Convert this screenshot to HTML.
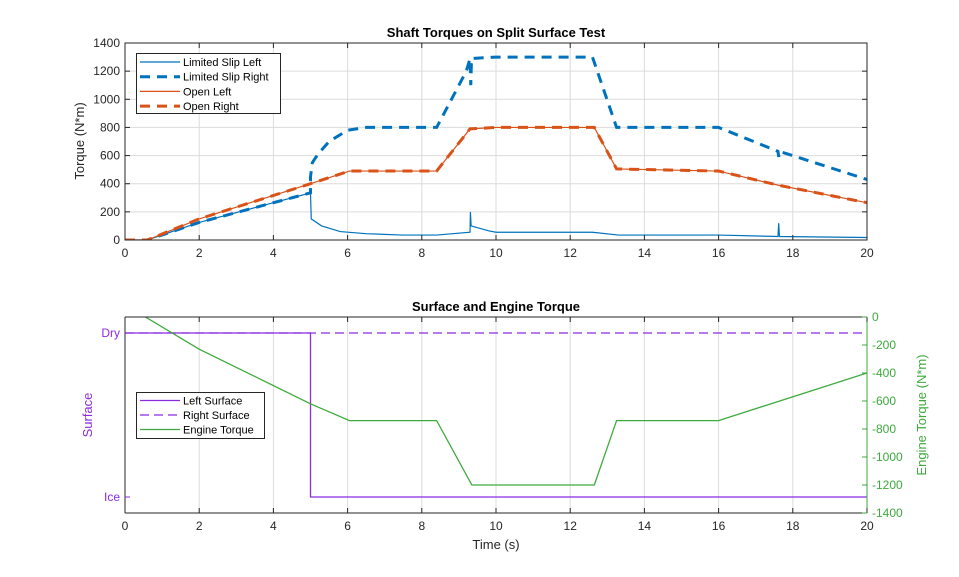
<!DOCTYPE html>
<html><head><meta charset="utf-8">
<style>
html,body{margin:0;padding:0;background:#fff;}
svg{display:block;font-family:"Liberation Sans",Arial,sans-serif;}
</style></head>
<body>
<svg id="chart" width="959" height="577" viewBox="0 0 959 577"></svg>
<script>
// ---- data ----
const xTicks = [0,2,4,6,8,10,12,14,16,18,20];
const topYTicks = [0,200,400,600,800,1000,1200,1400];
const engYTicks = [0,-200,-400,-600,-800,-1000,-1200,-1400];
const lsRightT = [0,0.6,2,4,5,5.0,5.05,5.2,5.5,6,6.5,8.4,9.2,9.3,9.32,9.34,10,12.6,13.25,16,17.6,17.62,17.64,20];
const lsRightV = [0,0,125,265,335,450,550,610,700,780,800,800,1200,1290,1100,1290,1300,1300,800,800,630,590,630,430];
const lsLeftT = [0,0.6,2,4,5,5.02,5.3,5.8,6.5,7.5,8.4,9.3,9.31,9.33,9.8,10,12.6,13.3,16,17.6,17.62,17.64,20];
const lsLeftV = [0,0,125,265,335,150,100,60,45,35,35,55,200,100,65,55,55,35,35,25,120,25,18];
const openT = [0,0.6,2,5,6.05,8.4,9.3,10,12.65,13.25,16,17.6,20];
const openV = [0,0,150,400,490,490,790,800,800,505,490,390,265];
const surfT = [0,5,5,20];
const leftSurfV = [1,1,0,0];
const rightSurfT = [0,20];
const rightSurfV = [1,1];
const engT = [0,0.55,2,5,6.05,8.4,9.35,12.65,13.25,16,20];
const engV = [90,0,-230,-620,-740,-740,-1200,-1200,-740,-740,-400];

// ---- helpers ----
const svg = document.getElementById('chart');
const NS = 'http://www.w3.org/2000/svg';
function mk(tag, attrs, parent){const e=document.createElementNS(NS,tag);for(const k in attrs)e.setAttribute(k,attrs[k]);(parent||svg).appendChild(e);return e;}
const X0=125,X1=867;
const xs = t => X0 + (t-0)/(20-0)*(X1-X0);
const T0=43,T1=240;
const yTop = v => T1 - v/1400*(T1-T0);
const B0=317,B1=513;
const ySurf = v => 497 - v*(497-333);
const yEng = v => B0 + (0-v)/1400*(B1-B0);
function pts(T,V,fy){return T.map((t,i)=>xs(t).toFixed(2)+','+fy(V[i]).toFixed(2)).join(' ');}

// clip paths
const defs = mk('defs',{});
const c1 = mk('clipPath',{id:'clipTop'},defs); mk('rect',{x:X0,y:T0,width:X1-X0,height:T1-T0},c1);
const c2 = mk('clipPath',{id:'clipBot'},defs); mk('rect',{x:X0,y:B0,width:X1-X0,height:B1-B0},c2);

// ===== TOP AXES =====
const gTop = mk('g',{});


mk('rect',{x:X0,y:T0,width:X1-X0,height:T1-T0,fill:'#fff'},gTop);
xTicks.forEach(t=>{
  const l=mk('line',{x1:xs(t),x2:xs(t),y1:T0,y2:T1,stroke:'#dcdcdc','stroke-width':1},gTop);
  
  
});
topYTicks.forEach(v=>{
  const l=mk('line',{x1:X0,x2:X1,y1:yTop(v),y2:yTop(v),stroke:'#dcdcdc','stroke-width':1},gTop);
  
  
});
const gTopS = mk('g',{'clip-path':'url(#clipTop)'},gTop);
let s;
s=mk('polyline',{points:pts(lsLeftT,lsLeftV,yTop),fill:'none',stroke:'#0072BD','stroke-width':1.2},gTopS);


s=mk('polyline',{points:pts(lsRightT,lsRightV,yTop),fill:'none',stroke:'#0072BD','stroke-width':3,'stroke-dasharray':'10,7'},gTopS);


s=mk('polyline',{points:pts(openT,openV,yTop),fill:'none',stroke:'#D95319','stroke-width':1.2},gTopS);


s=mk('polyline',{points:pts(openT,openV,yTop),fill:'none',stroke:'#D95319','stroke-width':3,'stroke-dasharray':'10,7'},gTopS);


mk('rect',{x:X0,y:T0,width:X1-X0,height:T1-T0,fill:'none',stroke:'#262626','stroke-width':1},gTop);
xTicks.forEach(t=>{
  mk('line',{x1:xs(t),x2:xs(t),y1:T1,y2:T1-5,stroke:'#262626'},gTop);
  mk('line',{x1:xs(t),x2:xs(t),y1:T0,y2:T0+5,stroke:'#262626'},gTop);
  const tx=mk('text',{x:xs(t),y:T1+17,'text-anchor':'middle','font-size':12,fill:'#262626'},gTop);
  tx.textContent=t;
  
  
});
topYTicks.forEach(v=>{
  mk('line',{x1:X0,x2:X0+5,y1:yTop(v),y2:yTop(v),stroke:'#262626'},gTop);
  mk('line',{x1:X1,x2:X1-5,y1:yTop(v),y2:yTop(v),stroke:'#262626'},gTop);
  const tx=mk('text',{x:X0-5,y:yTop(v)+4,'text-anchor':'end','font-size':12,fill:'#262626'},gTop);
  tx.textContent=v;
  
  
});
let t1=mk('text',{x:496,y:37,'text-anchor':'middle','font-size':13,'font-weight':'bold',fill:'#000'},gTop);
t1.textContent='Shaft Torques on Split Surface Test';


let yl=mk('text',{x:0,y:0,'text-anchor':'middle','font-size':13,fill:'#262626',transform:'translate(84,141) rotate(-90)'},gTop);
yl.textContent='Torque (N*m)';



// top legend
const lg=mk('g',{},gTop);


mk('rect',{x:136.5,y:53.5,width:144,height:60,fill:'#fff',stroke:'#262626','stroke-width':1},lg);
const legItems=[['Limited Slip Left','#0072BD',1.2,null],['Limited Slip Right','#0072BD',3,'10,7'],['Open Left','#D95319',1.2,null],['Open Right','#D95319',3,'10,7']];
legItems.forEach((it,i)=>{
  const y=62+i*14.7;
  const a={x1:140,x2:180,y1:y,y2:y,stroke:it[1],'stroke-width':it[2]};
  if(it[3])a['stroke-dasharray']=it[3];
  mk('line',a,lg);
  const tx=mk('text',{x:183,y:y+4,'font-size':11,fill:'#000'},lg);
  tx.textContent=it[0];
  
  
});

// ===== BOTTOM AXES =====
const gB = mk('g',{});


mk('rect',{x:X0,y:B0,width:X1-X0,height:B1-B0,fill:'#fff'},gB);
xTicks.forEach(t=>{
  const l=mk('line',{x1:xs(t),x2:xs(t),y1:B0,y2:B1,stroke:'#dcdcdc','stroke-width':1},gB);
  
  
});
const gBS = mk('g',{'clip-path':'url(#clipBot)'},gB);
s=mk('polyline',{points:pts(surfT,leftSurfV,ySurf),fill:'none',stroke:'#8B2BE2','stroke-width':1.3},gBS);


s=mk('polyline',{points:pts(rightSurfT,rightSurfV,ySurf),fill:'none',stroke:'#8B2BE2','stroke-width':1.3,'stroke-dasharray':'9,5'},gBS);


s=mk('polyline',{points:pts(engT,engV,yEng),fill:'none',stroke:'#3CAA3C','stroke-width':1.3},gBS);


// axes lines
mk('line',{x1:X0,x2:X1,y1:B1,y2:B1,stroke:'#262626'},gB);
mk('line',{x1:X0,x2:X1,y1:B0,y2:B0,stroke:'#262626'},gB);
mk('line',{x1:X0,x2:X0,y1:B0,y2:B1,stroke:'#262626'},gB);
mk('line',{x1:X1,x2:X1,y1:B0,y2:B1,stroke:'#3CAA3C'},gB);
xTicks.forEach(t=>{
  mk('line',{x1:xs(t),x2:xs(t),y1:B1,y2:B1-5,stroke:'#262626'},gB);
  mk('line',{x1:xs(t),x2:xs(t),y1:B0,y2:B0+5,stroke:'#262626'},gB);
  const tx=mk('text',{x:xs(t),y:B1+17,'text-anchor':'middle','font-size':12,fill:'#262626'},gB);
  tx.textContent=t;
  
  
});
[['Dry',1],['Ice',0]].forEach(d=>{
  mk('line',{x1:X0,x2:X0+5,y1:ySurf(d[1]),y2:ySurf(d[1]),stroke:'#8B2BE2'},gB);
  const tx=mk('text',{x:X0-5,y:ySurf(d[1])+4,'text-anchor':'end','font-size':12,fill:'#8B2BE2'},gB);
  tx.textContent=d[0];
  
  
});
engYTicks.forEach(v=>{
  mk('line',{x1:X1,x2:X1-5,y1:yEng(v),y2:yEng(v),stroke:'#3CAA3C'},gB);
  const tx=mk('text',{x:X1+5,y:yEng(v)+4,'font-size':12,fill:'#3CAA3C'},gB);
  tx.textContent=v;
  
  
});
let t2=mk('text',{x:496,y:311,'text-anchor':'middle','font-size':13,'font-weight':'bold',fill:'#000'},gB);
t2.textContent='Surface and Engine Torque';


let xl=mk('text',{x:496,y:549,'text-anchor':'middle','font-size':13,fill:'#262626'},gB);
xl.textContent='Time (s)';


let sl=mk('text',{x:0,y:0,'text-anchor':'middle','font-size':13,fill:'#8B2BE2',transform:'translate(92,415) rotate(-90)'},gB);
sl.textContent='Surface';


let el=mk('text',{x:0,y:0,'text-anchor':'middle','font-size':13,fill:'#3CAA3C',transform:'translate(926,415) rotate(-90)'},gB);
el.textContent='Engine Torque (N*m)';



// bottom legend
const lg2=mk('g',{},gB);


mk('rect',{x:136.5,y:392.5,width:128,height:46,fill:'#fff',stroke:'#262626','stroke-width':1},lg2);
const leg2=[['Left Surface','#8B2BE2',null],['Right Surface','#8B2BE2','9,5'],['Engine Torque','#3CAA3C',null]];
leg2.forEach((it,i)=>{
  const y=400.5+i*14.5;
  const a={x1:140,x2:180,y1:y,y2:y,stroke:it[1],'stroke-width':1.3};
  if(it[2])a['stroke-dasharray']=it[2];
  mk('line',a,lg2);
  const tx=mk('text',{x:183,y:y+4,'font-size':11,fill:'#000'},lg2);
  tx.textContent=it[0];
  
  
});
</script>
</body></html>
